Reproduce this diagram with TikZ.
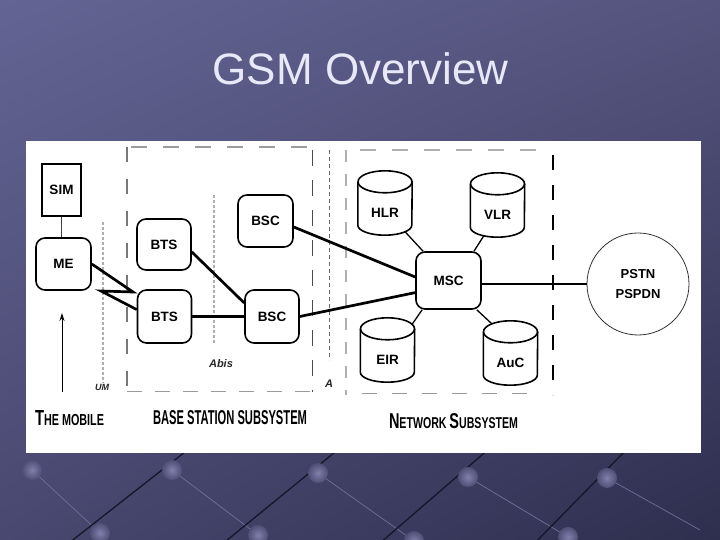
\documentclass[tikz,border=0pt]{standalone}
\usepackage{fontspec}
\setmainfont{Liberation Sans}
\usetikzlibrary{calc,arrows.meta,shadings}
\definecolor{bgUL}{RGB}{100,100,148}
\definecolor{bgUR}{RGB}{84,84,126}
\definecolor{bgLL}{RGB}{72,72,112}
\definecolor{bgLR}{RGB}{46,46,78}
\definecolor{titlecol}{RGB}{232,232,248}
\definecolor{ballin}{RGB}{128,128,172}
\definecolor{ballout}{RGB}{78,78,118}
\definecolor{darkline}{RGB}{22,22,40}
\definecolor{lightline}{RGB}{112,112,152}
\definecolor{dgray}{RGB}{120,120,120}
\definecolor{mgray}{RGB}{155,155,155}
\definecolor{lgray}{RGB}{175,175,175}
\begin{document}
\begin{tikzpicture}[x=1pt,y=1pt,
  rbox/.style={draw,line width=1.6pt,rounded corners=9pt,inner sep=0pt,fill=white,
    font=\fontsize{13.5}{15}\selectfont\bfseries},
  sqbox/.style={draw,line width=2pt,inner sep=0pt,fill=white,
    font=\fontsize{13.5}{15}\selectfont\bfseries},
  cyl/.style={inner sep=0pt,minimum width=54pt,text height=46.5pt,text depth=17.5pt,
    font=\fontsize{13.5}{15}\selectfont\bfseries},
  cylline/.style={line width=1.6pt},
  thickconn/.style={line width=2.7pt},
  thinconn/.style={line width=1.3pt},
  bigdash/.style={line width=2.5pt,dash pattern=on 16pt off 16pt},
  dotline/.style={line width=1.4pt,lgray,dash pattern=on 3pt off 2pt},
  italab/.style={font=\fontsize{11}{13}\selectfont\bfseries\itshape,text=black!85},
  sublab/.style={inner sep=0pt}
]
\useasboundingbox (0,0) rectangle (720,540);
% background
\shade[upper left=bgUL,upper right=bgUR,lower left=bgLL,lower right=bgLR] (0,0) rectangle (720,540);
% decorations
\foreach \a/\b in {{32,70}/{100,7},{172,70}/{258,5},{318,67}/{414,-1},{468,63}/{568,3},{607,62}/{700,10}}
  \draw[lightline,line width=0.7pt] (\a) -- (\b);
\foreach \a/\b in {{60,-10}/{190,92},{215,-10}/{340,92},{372,-10}/{490,92},{528,-10}/{628,92}}
  \draw[darkline,line width=1.3pt] (\a) -- (\b);
\foreach \p in {{32,70},{172,70},{318,67},{468,63},{607,62},{100,7},{258,5},{414,-1},{568,3}}
  \shade[inner color=ballin,outer color=ballout] (\p) circle (10pt);
% title
\node[anchor=base,font=\fontsize{44}{44}\selectfont,text=titlecol] (title) at (360.5,455) {GSM Overview};
% white panel
\fill[white] (26,87) rectangle (701,399);
% subsystem boundaries
\draw[bigdash,dgray,dash pattern=on 15pt off 17pt] (127,393) -- (127,148);
\draw[bigdash,mgray] (131,393) -- (310,393);
\draw[line width=0.7pt,black!70,dash pattern=on 16pt off 14pt] (312,390) -- (312,148);
\draw[line width=1pt,mgray,dash pattern=on 15pt off 13pt] (127,148) -- (311,148);
\draw[line width=0.7pt,black!60,dash pattern=on 4pt off 3pt] (329,390) -- (329,180);
\draw[bigdash,lgray,dash pattern=on 12pt off 12pt] (346,390) -- (346,145);
\draw[bigdash,lgray] (360,390) -- (540,390);
\draw[line width=1.8pt,black,dash pattern=on 15pt off 15pt] (553,385) -- (553,145);
\draw[line width=1pt,mgray,dash pattern=on 15pt off 15pt] (362,146) -- (542,146);
\draw[dotline] (103,318) -- (103,157);
\draw[dotline] (214,345) -- (214,197);
% nodes
\node[sqbox,minimum width=39pt,minimum height=52pt] (sim) at (61.5,350) {SIM};
\node[rbox,minimum width=55pt,minimum height=52pt] (me) at (63.5,276) {ME};
\node[rbox,minimum width=54pt,minimum height=51pt] (bts1) at (164,295.5) {BTS};
\node[rbox,minimum width=54pt,minimum height=53pt] (bts2) at (164.5,223.5) {BTS};
\node[rbox,minimum width=55pt,minimum height=52pt] (bsc1) at (265.5,319) {BSC};
\node[rbox,minimum width=54pt,minimum height=53pt] (bsc2) at (272,223.5) {BSC};
\node[rbox,minimum width=65pt,minimum height=57pt] (msc) at (448.5,259.5) {MSC};
\node[cyl] (hlr) at (385,337) {HLR};
\node[cyl] (vlr) at (497.5,335) {VLR};
\node[cyl] (eir) at (387.5,190) {EIR};
\node[cyl] (auc) at (510.5,187) {AuC};
\node[draw,circle,line width=0.8pt,black!80,text=black,minimum size=102pt,inner sep=0pt,align=center,
  font=\fontsize{13}{20}\selectfont\bfseries] (pstn) at (638,256) {PSTN\\PSPDN};
% cylinder outlines
\foreach \n in {hlr,vlr,eir,auc}{
  \draw[cylline] ($(\n.north west)+(0,-11)$) -- ($(\n.south west)+(0,10)$)
    arc[start angle=180,end angle=360,x radius=27pt,y radius=10pt] -- ($(\n.north east)+(0,-11)$);
  \draw[cylline] ($(\n.north)+(0,-11)$) ellipse[x radius=27pt,y radius=11pt];
}
% connectors
\coordinate (lt1) at (133,248);
\coordinate (lt2) at (101,249);
\draw[line width=1.6pt,black!75] (sim.south) -- (sim.south |- me.north);
\draw[thickconn,line join=miter] (me.east) -- (lt1) -- (lt2) -- (bts2.166);
\draw[thickconn] (bts1.-15) -- (bsc2.154);
\draw[thickconn] (bts2.east) -- (bsc2.west);
\draw[thickconn] (bsc1.-12) -- (msc.174);
\draw[thickconn] (bsc2.east) -- (msc.200);
\draw[line width=2.2pt] (pstn.west -| msc.east) -- (pstn.west);
\draw[thinconn] ($(hlr.center)+(20,-28.7)$) -- (msc.131);
\draw[thinconn] ($(vlr.center)+(-13.5,-30.5)$) -- (msc.49);
\draw[thinconn] ($(eir.center)+(24.5,25.5)$) -- (msc.228);
\draw[thinconn] ($(auc.center)+(-18.5,29)$) -- (msc.-46);
% mobile arrow
\coordinate (arrS) at (62,148);
\coordinate (arrE) at (62,227);
\draw[line width=1pt,-{Stealth[length=8pt,width=5pt]}] (arrS) -- (arrE);
% labels
\node[italab,font=\fontsize{9}{10}\selectfont\bfseries\itshape] (um) at (102,153) {UM};
\node[italab] (abis) at (221,176) {Abis};
\node[italab] (alab) at (329,156) {A};
\node[sublab] (lmob) at (69.5,122) {\resizebox{69pt}{15pt}{\bfseries\fontsize{20}{20}\selectfont T\fontsize{14.6}{15}\selectfont HE M\fontsize{14.6}{15}\selectfont OBILE}};
\node[sublab] (lbss) at (230,122) {\resizebox{154pt}{14pt}{\bfseries BASE STATION SUBSYSTEM}};
\node[sublab] (lnss) at (453.5,119) {\resizebox{129pt}{15pt}{\bfseries\fontsize{20}{20}\selectfont N\fontsize{14.6}{15}\selectfont ETWORK \fontsize{20}{20}\selectfont S\fontsize{14.6}{15}\selectfont UBSYSTEM}};
\end{tikzpicture}
\end{document}
